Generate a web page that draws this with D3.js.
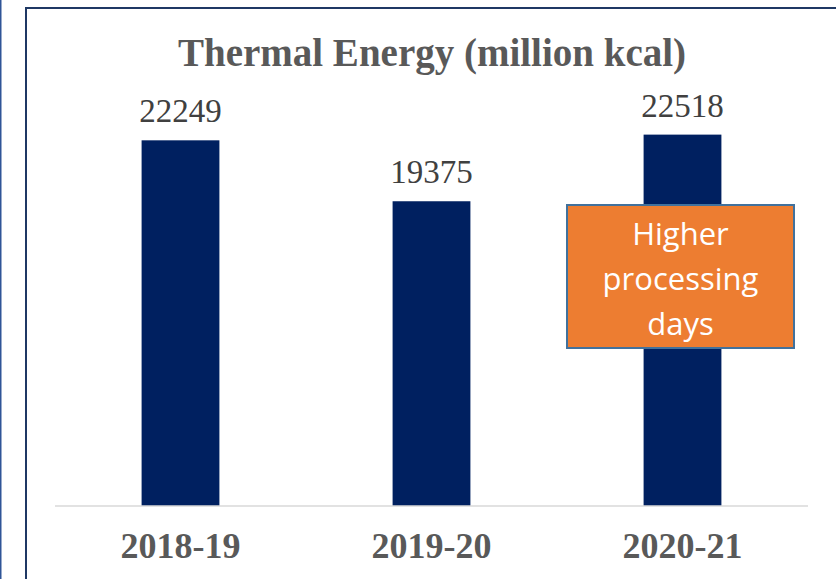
<!DOCTYPE html>
<html>
<head>
<meta charset="utf-8">
<script src="https://cdn.jsdelivr.net/npm/d3@7.9.0/dist/d3.min.js"></script>
<style>
  html, body { margin: 0; padding: 0; background: #fff; }
  svg { display: block; }
</style>
</head>
<body>
<svg id="chart" width="836" height="579"></svg>
<script>
const years = ['2018-19', '2019-20', '2020-21'];
const energy = [22249, 19375, 22518];
const yDomain = [5000, 25000];
const noteLines = ['Higher', 'processing', 'days'];

const svg = d3.select('#chart');

// slide frame pieces
svg.append('line')
    .attr('x1', 0.75).attr('x2', 0.75).attr('y1', 0).attr('y2', 579)
    .attr('stroke', '#2f5597').attr('stroke-width', 1.5);
svg.append('rect')
    .attr('x', 26).attr('y', 8).attr('width', 830).attr('height', 600)
    .attr('fill', 'none').attr('stroke', '#1f3864').attr('stroke-width', 2);

let x = d3.scaleBand().domain(years).range([55, 808]).paddingInner(0.69).paddingOuter(0.345);
let y = d3.scaleLinear().domain(yDomain).range([506, 82]);

svg.append('text')
    .attr('x', 432).attr('y', 66)
    .attr('text-anchor', 'middle')
    .attr('font-family', '"Liberation Serif", serif')
    .attr('font-weight', 'bold')
    .attr('font-size', 39)
    .attr('fill', '#595959')
    .text('Thermal Energy (million kcal)');

// bars
svg.selectAll('rect.bar')
    .data(energy)
    .join('rect')
    .attr('class', 'bar')
    .attr('x', (d, i) => x(years[i]))
    .attr('y', d => y(d))
    .attr('width', x.bandwidth())
    .attr('height', d => y(yDomain[0]) - y(d))
    .attr('fill', '#002060');

// baseline
svg.append('line')
    .attr('x1', 55).attr('x2', 808)
    .attr('y1', y(yDomain[0])).attr('y2', y(yDomain[0]))
    .attr('stroke', '#d9d9d9').attr('stroke-width', 1.5);

// value labels
svg.selectAll('text.val')
    .data(energy)
    .join('text')
    .attr('class', 'val')
    .attr('x', (d, i) => x(years[i]) + x.bandwidth() / 2)
    .attr('y', d => y(d) - 18)
    .attr('text-anchor', 'middle')
    .attr('font-family', '"Liberation Serif", serif')
    .attr('font-size', 33)
    .attr('fill', '#404040')
    .text(d => d);

// category labels
svg.selectAll('text.cat')
    .data(years)
    .join('text')
    .attr('class', 'cat')
    .attr('x', d => x(d) + x.bandwidth() / 2)
    .attr('y', 558)
    .attr('text-anchor', 'middle')
    .attr('font-family', '"Liberation Serif", serif')
    .attr('font-weight', 'bold')
    .attr('font-size', 36)
    .attr('fill', '#595959')
    .text(d => d);

// callout box
const note = svg.append('g');
note.append('rect')
    .attr('x', 567).attr('y', 205).attr('width', 227).attr('height', 143)
    .attr('fill', '#ed7d31').attr('stroke', '#41719c').attr('stroke-width', 2);
note.selectAll('text')
    .data(noteLines)
    .join('text')
    .attr('x', 680.5)
    .attr('y', (d, i) => 245 + i * 45)
    .attr('text-anchor', 'middle')
    .attr('font-family', '"Open Sans", sans-serif')
    .attr('font-size', 31)
    .attr('fill', '#ffffff')
    .text(d => d);
</script>
</body>
</html>
